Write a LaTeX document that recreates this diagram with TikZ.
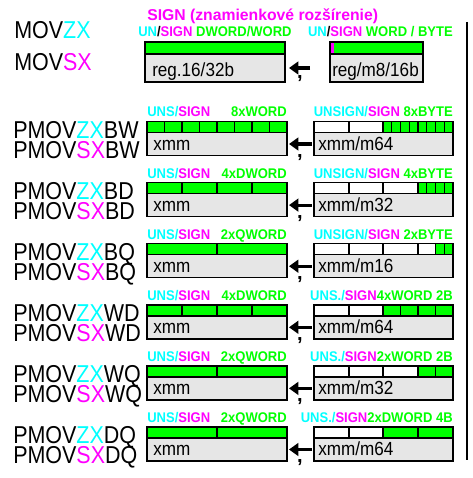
\documentclass[tikz,border=0pt]{standalone}
\usepackage{fontspec}
\setmainfont{Liberation Sans}
\newfontfamily\bigf[FakeStretch=0.88]{Liberation Sans}
\newfontfamily\boxf[FakeStretch=0.9]{Liberation Sans}
\newfontfamily\lblf[FakeStretch=0.93]{Liberation Sans}
\usetikzlibrary{arrows.meta}
\definecolor{cyanc}{RGB}{0,255,255}
\definecolor{magc}{RGB}{255,0,255}
\definecolor{greenc}{RGB}{0,255,0}
\definecolor{grayc}{RGB}{230,230,230}
\tikzset{
  boxline/.style={line width=1.1pt},
  divline/.style={line width=1pt},
  gbox/.style={draw,line width=1.1pt,fill=grayc,anchor=north west,inner sep=0pt,outer sep=0pt,minimum height=17.25pt},
  bigtxt/.style={anchor=base west,inner sep=0pt,font=\bigf\fontsize{18.3}{20}\selectfont},
  boxtxt/.style={anchor=base west,inner sep=0pt,font=\boxf\fontsize{14.25}{16}\selectfont},
  lbl/.style={inner sep=0pt,text=greenc,font=\lblf\bfseries\fontsize{10.5}{12}\selectfont},
  arr/.style={line width=2.3pt,-{Triangle[length=7pt,width=9.5pt]},shorten <=1.5pt,shorten >=1.5pt},
  commatxt/.style={anchor=base,inner sep=0pt,font=\bfseries\fontsize{15}{16}\selectfont}
}
\newcommand\lbar[2]{%
  \fill[greenc] (147,#1) rectangle (287,#1+11);
  \foreach \x in {#2} \draw[divline] (\x,#1) -- (\x,#1+11);
  \draw[boxline] (147,#1) rectangle (287,#1+11);
}
\newcommand\rbar[3]{%
  \fill[white] (314,#1) rectangle (#2,#1+11);
  \fill[greenc] (#2,#1) rectangle (453,#1+11);
  \foreach \x in {#3} \draw[divline] (\x,#1) -- (\x,#1+11);
  \draw[boxline] (314,#1) rectangle (453,#1+11);
}
\newcommand\prow[9]{%
  \node[bigtxt,text depth=0pt] (z#2) at (13,#1+16.5) {PMOV\textcolor{cyanc}{ZX}#3};
  \node[bigtxt,text height=12pt] (s#2) at (13,#1+36.5) {PMOV\textcolor{magc}{SX}#3};
  \node[lbl,anchor=base west] (la#2) at (147,#1-4.5) {\textcolor{cyanc}{UNS/}\textcolor{magc}{SIGN}};
  \node[lbl,anchor=base east] (lb#2) at (287,#1-4.5) {#5};
  \lbar{#1}{#4}
  \node[gbox,minimum width=105pt] (L#2) at (147,#1+11) {};
  \node[boxtxt] (lt#2) at (153,#1+28.5) {xmm};
  \node[lbl,anchor=base east] (ra#2) at (453,#1-4.5) {#6};
  \rbar{#1}{#7}{#8}
  \node[gbox,minimum width=104.25pt] (R#2) at (314,#1+11) {};
  \node[boxtxt] (rt#2) at (318,#1+28.5) {#9};
  \draw[arr] (R#2.west) -- (L#2.east);
  \node[commatxt] (c#2) at (300,#1+35.5) {,};
}
\begin{document}
\begin{tikzpicture}[x=0.75pt,y=-0.75pt]
\useasboundingbox (0,0) rectangle (472,478);
% top row
\node[bigtxt] (movzx) at (14,39) {MOV\textcolor{cyanc}{ZX}};
\node[bigtxt] (movsx) at (14,70) {MOV\textcolor{magc}{SX}};
\node[anchor=base west,inner sep=0pt,text=magc,font=\bfseries\fontsize{11.8}{14}\selectfont] (title) at (147,21) {SIGN (znamienkové rozšírenie)};
\node[lbl,anchor=base west] (tl) at (138,37) {\textcolor{cyanc}{UN}\textcolor{black}{/}\textcolor{magc}{SIGN} DWORD/WORD};
\node[lbl,anchor=base east] (tr) at (453,37) {\textcolor{cyanc}{UN}\textcolor{black}{/}\textcolor{magc}{SIGN} WORD / BYTE};
\fill[greenc] (145,42) rectangle (285,54);
\draw[boxline] (145,42) rectangle (285,54);
\node[gbox,minimum width=105pt,minimum height=21pt] (L0) at (145,54) {};
\node[boxtxt] (lt0) at (152,77) {reg.16/32b};
\fill[greenc] (330,42) rectangle (423,54);
\fill[magc] (330,42) rectangle (334,54);
\draw[boxline] (330,42) rectangle (423,54);
\node[gbox,minimum width=69.75pt,minimum height=21pt] (R0) at (330,54) {};
\node[boxtxt] (rt0) at (332,77) {reg/m8/16b};
\coordinate (a0) at (312,68);
\coordinate (b0) at (287,68);
\draw[arr] (a0) -- (b0);
\node[commatxt] (c0) at (300,79) {,};
% rows
\prow{121.5}{1}{BW}{164.5,182,199.5,217,234.5,252,269.5}{8xWORD}{\textcolor{cyanc}{UNSIGN/}\textcolor{magc}{SIGN} 8xBYTE}{383}{349,383,391.75,400.5,409.25,418,426.75,435.5,444.25}{xmm/m64}
\prow{182.6}{2}{BD}{182,217,252}{4xDWORD}{\textcolor{cyanc}{UNSIGN/}\textcolor{magc}{SIGN} 4xBYTE}{418}{349,383,418,426.75,435.5,444.25}{xmm/m32}
\prow{243.7}{3}{BQ}{217}{2xQWORD}{\textcolor{cyanc}{UNSIGN/}\textcolor{magc}{SIGN} 2xBYTE}{435.5}{349,383,418,435.5,444.25}{xmm/m16}
\prow{304.8}{4}{WD}{182,217,252}{4xDWORD}{\textcolor{cyanc}{UNS./}\textcolor{magc}{SIGN}4xWORD 2B}{383}{349,383,400.5,418,435.5}{xmm/m64}
\prow{365.9}{5}{WQ}{217}{2xQWORD}{\textcolor{cyanc}{UNS./}\textcolor{magc}{SIGN}2xWORD 2B}{418}{349,383,418,435.5}{xmm/m32}
\prow{427}{6}{DQ}{217}{2xQWORD}{\textcolor{cyanc}{UNS./}\textcolor{magc}{SIGN}2xDWORD 4B}{383}{349,383,418}{xmm/m64}
\draw[line width=1.5pt] (467,22) -- (467,460);
\end{tikzpicture}
\end{document}
